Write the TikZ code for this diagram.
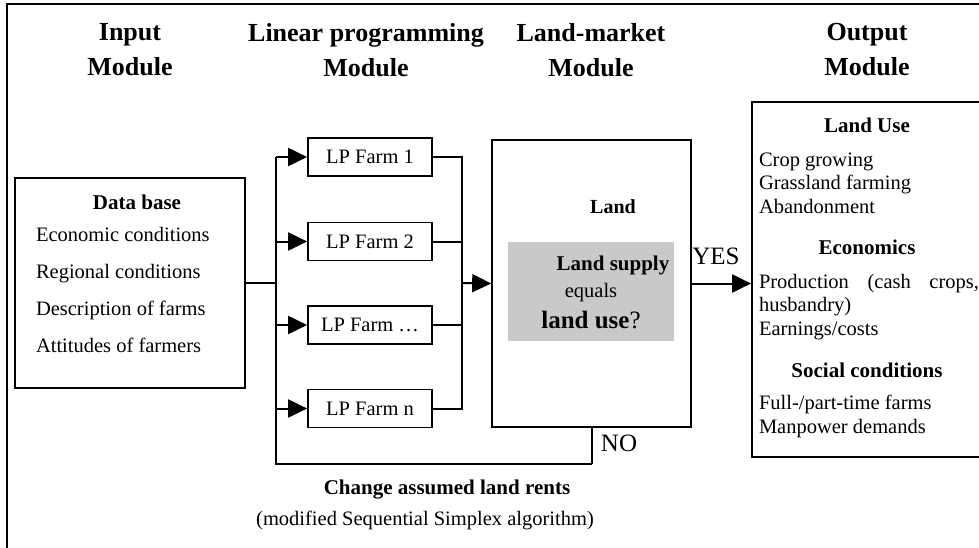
\documentclass[tikz,border=0pt]{standalone}
\usepackage{fontspec}
\setmainfont{Liberation Serif}
\usetikzlibrary{positioning,calc,arrows.meta}

\begin{document}
\begin{tikzpicture}[x=1pt, y=-1pt, ->, >={Triangle[length=19pt,width=18pt]}, line width=2pt,
 main/.style = {draw, line width=1.7pt, fill=none, inner sep=0pt},
 lp/.style = {main, minimum width=124pt, minimum height=38pt, font=\fontsize{20.5}{24}\selectfont},
 head/.style = {font=\fontsize{26}{35}\selectfont\bfseries, align=center, inner sep=0pt},
 ttl/.style = {font=\fontsize{21}{24}\selectfont\bfseries, inner sep=0pt},
 txt/.style = {font=\fontsize{20.5}{23.5}\selectfont, anchor=west, align=left, inner sep=0pt}]

\useasboundingbox (0,0) rectangle (979,548);
\clip (0,0) rectangle (979,548);

% frame
\draw[-, line width=2.4pt] (7,560) -- (7,4) -- (990,4);

% headings
\node[head] (hin) at (130,50) {Input\\Module};
\node[head] (hlp) at (366,50) {Linear programming\\Module};
\node[head] (hland) at (591,50) {Land-market\\Module};
\node[head] (hout) at (867,50) {Output\\Module};

% input module
\node[main, minimum width=230pt, minimum height=210pt] (db) at (130,283) {};
\node[ttl] (dbt) at (137,202) {Data base};
\node[txt, font=\fontsize{20.5}{36.7}\selectfont] (dbl) at (35,290) {Economic conditions\\Regional conditions\\Description of farms\\Attitudes of farmers};

% linear programming module
\node[lp] (lp1) at (370,157) {LP Farm 1};
\node[lp] (lp2) at (370,241.5) {LP Farm 2};
\node[lp] (lp3) at (370,325) {LP Farm \dots};
\node[lp] (lp4) at (370,408.5) {LP Farm n};

\coordinate (jl) at (276,283);
\coordinate (jr) at (462,283);
\coordinate (nob) at (591.5,464);

\path (db.east) edge[-] (jl);
\draw[-] (lp1.west -| jl) -- (nob -| jl) -- (nob);
\path (lp1.west -| jl) edge (lp1.west);
\path (lp2.west -| jl) edge (lp2.west);
\path (lp3.west -| jl) edge (lp3.west);
\path (lp4.west -| jl) edge (lp4.west);

\draw[-] (lp1.east) -- (lp1.east -| jr) -- (lp4.east -| jr) -- (lp4.east);
\path (lp2.east) edge[-] (lp2.east -| jr);
\path (lp3.east) edge[-] (lp3.east -| jr);

% land-market module
\node[main, minimum width=199pt, minimum height=287pt] (land) at (591.5,283.5) {};
\node[fill=black!21, minimum width=166pt, minimum height=99pt, inner sep=0pt] (grey) at (591,291.5) {};
\node[ttl, font=\fontsize{20}{24}\selectfont\bfseries] (landt) at (613,207) {Land};
\node[ttl] (supply) at (613,265) {Land supply};
\node[inner sep=0pt, font=\fontsize{20.5}{24}\selectfont] (equals) at (591,293) {equals};
\node[inner sep=0pt, font=\fontsize{25}{28}\selectfont] (use) at (591,320) {\textbf{land use}?};

\path (jr) edge (land.west);
\path (land.south) edge[-] (nob);

% output module
\node[main, minimum width=234pt, minimum height=355pt] (out) at (869,279.5) {};
\path (land.east) edge (land.east -| out.west);
\node[inner sep=0pt, font=\fontsize{25}{28}\selectfont] (yes) at (716,256) {YES};
\node[inner sep=0pt, font=\fontsize{25}{28}\selectfont] (no) at (619,443) {NO};

\node[ttl] (use1) at (867,125) {Land Use};
\node[txt] (use2) at (758,183) {Crop growing\\Grassland farming\\Abandonment};
\node[ttl] (eco1) at (867,247) {Economics};
\node[txt] (eco2) at (758,307) {\makebox[220pt][s]{Production (cash crops,}\\husbandry)\\Earnings/costs};
\node[ttl] (soc1) at (867,370) {Social conditions};
\node[txt] (soc2) at (758,416.5) {Full-/part-time farms\\Manpower demands};

% loop label
\node[ttl] (rent) at (447,490) {Change assumed land rents};
\node[inner sep=0pt, font=\fontsize{20.5}{24}\selectfont] (simplex) at (425,520) {(modified Sequential Simplex algorithm)};
\end{tikzpicture}
\end{document}
